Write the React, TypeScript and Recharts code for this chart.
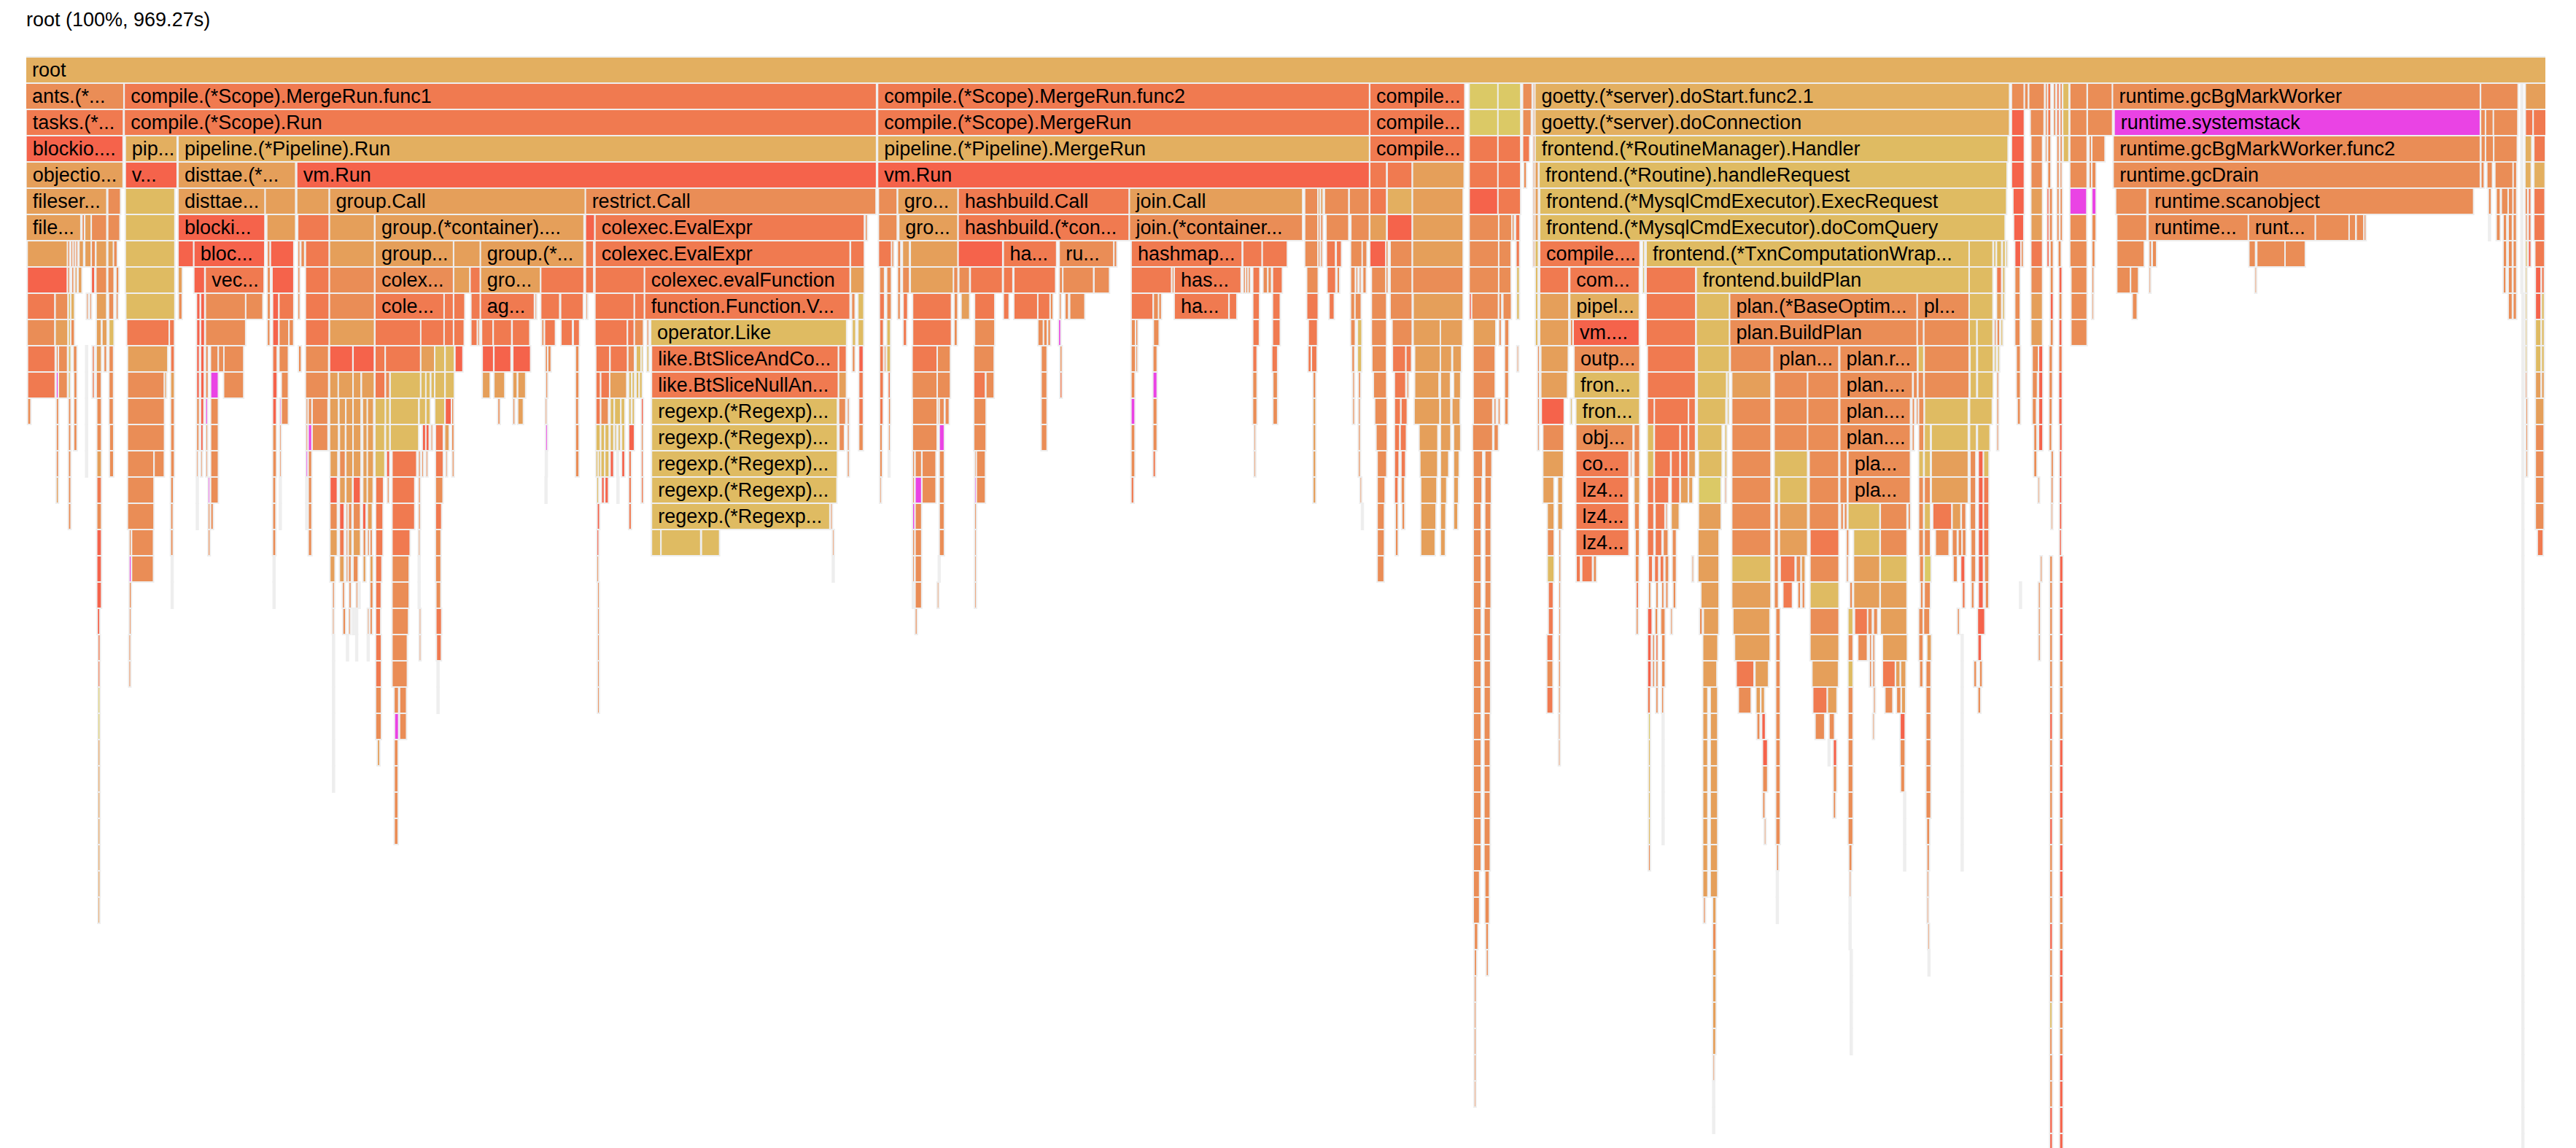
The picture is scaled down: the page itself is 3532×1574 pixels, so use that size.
import { BarChart, Bar, XAxis, YAxis } from "recharts";

// one frame: [first sample, samples, heat, label]
type Frame = [number, number, string, string?];

const TITLE = "root (100%, 969.27s)";
const TOTAL_SAMPLES = 1533;

const depth00: Frame[] = [[0, 1533, "a", "root"]];
const depth01: Frame[] = [
  [0, 59, "c", "ants.(*..."], [60, 457, "d", "compile.(*Scope).MergeRun.func1"], [518.5, 298.5, "d", "compile.(*Scope).MergeRun.func2"], [818, 57, "d", "compile..."],
  [878.5, 17, "l"], [896, 13, "l"], [911, 5, "c"], [917.3, 0.6, "c"], [918.5, 288, "a", "goetty.(*server).doStart.func2.1"],
  [1208.5, 7, "c"], [1216.4, 1.6, "c"], [1219, 8.8, "c"], [1229, 0.8, "c"], [1230.5, 1.2, "d"], [1234, 0.7, "c"], [1236, 0.8, "d"], [1238, 0.7, "c"], [1239.7, 3, "y"],
  [1244, 9.7, "c"], [1254.7, 14.5, "c"], [1270, 223, "c", "runtime.gcBgMarkWorker"], [1494, 22, "c"], [1518.6, 0.2, "c"], [1521.2, 11.8, "b"],
];
const depth02: Frame[] = [
  [0.3, 58.4, "d", "tasks.(*..."], [60, 457, "d", "compile.(*Scope).Run"], [518.5, 298.5, "d", "compile.(*Scope).MergeRun"], [818, 57, "d", "compile..."],
  [878.5, 17, "l"], [896, 13, "l"], [911, 4.5, "c"], [917.3, 0.6, "c"], [918.5, 288, "a", "goetty.(*server).doConnection"],
  [1208.5, 7, "e"], [1219.9, 7.6, "c"], [1229, 0.8, "c"], [1230.5, 1.2, "d"], [1234, 0.7, "c"], [1236, 0.8, "d"], [1238, 0.7, "c"], [1239.7, 3, "y"],
  [1244, 9.7, "c"], [1254.7, 14.5, "c"], [1271, 222, "m", "runtime.systemstack"], [1494, 2.5, "c"], [1497, 4, "c"], [1501.8, 14, "c"], [1518.6, 0.2, "c"], [1521.2, 4, "d"], [1526, 7, "d"],
];
const depth03: Frame[] = [
  [0.3, 58.2, "e", "blockio...."], [60.7, 30.7, "a", "pip..."], [92.8, 424.2, "a", "pipeline.(*Pipeline).Run"], [518.5, 298.5, "a", "pipeline.(*Pipeline).MergeRun"], [818, 57, "d", "compile..."],
  [878.5, 17, "d"], [896, 13, "d"], [911, 3.5, "d"], [917.3, 0.6, "c"], [918.6, 287, "y", "frontend.(*RoutineManager).Handler"],
  [1208.5, 7, "e"], [1220.3, 6.3, "c"], [1229, 0.4, "c"], [1230.5, 1.2, "c"], [1236, 0.8, "c"], [1238, 0.7, "c"], [1240, 2.6, "y"],
  [1244, 9.7, "c"], [1255.7, 0.8, "c"], [1257.4, 7.2, "c"], [1270.4, 222.6, "c", "runtime.gcBgMarkWorker.func2"], [1494.2, 2, "c"], [1497, 4.3, "c"], [1502, 13.5, "c"], [1518.6, 0.2, "c"], [1521, 3.3, "a"], [1526.4, 6.2, "d"],
];
const depth04: Frame[] = [
  [0.3, 58.2, "b", "objectio..."], [60.7, 30.7, "e", "v..."], [92.8, 70.7, "b", "disttae.(*..."], [165, 352, "e", "vm.Run"], [518.5, 298.5, "e", "vm.Run"],
  [818, 9.4, "d"], [828.6, 14.4, "d"], [844, 30.6, "b"], [878.5, 17, "d"], [896, 13, "d"], [911.6, 1, "c"], [917.3, 0.6, "c"], [918.5, 1.3, "b"],
  [921, 284, "y", "frontend.(*Routine).handleRequest"], [1208.5, 7, "e"], [1220.3, 6.3, "c"], [1230.5, 1.2, "c"], [1236, 0.8, "c"], [1238, 0.5, "c"],
  [1244, 9.7, "c"], [1255.7, 0.8, "c"], [1257.4, 1.8, "c"], [1270.4, 222.6, "c", "runtime.gcDrain"], [1494.2, 1.2, "c"], [1497.8, 2.6, "c"], [1502.7, 10.3, "c"], [1513.8, 1.4, "c"], [1518.6, 0.2, "c"], [1521, 3, "a"], [1526.4, 6, "a"],
];
const depth05: Frame[] = [
  [0.3, 48.3, "b", "fileser..."], [50, 7, "c"], [60.7, 29.3, "y"], [92.8, 52.2, "b", "disttae..."], [145.8, 17.7, "b"], [165, 19, "b"], [184.9, 155, "b", "group.Call"], [340.7, 176, "c", "restrict.Call"],
  [519, 10.6, "c"], [530.7, 36, "b", "gro..."], [567.5, 103.4, "d", "hashbuild.Call"], [671.7, 104.6, "b", "join.Call"], [778.4, 7.4, "c"], [786.5, 0.5, "b"], [788, 0.8, "b"], [790.4, 14, "c"], [805.5, 11.4, "c"],
  [818, 9.4, "d"], [828.6, 14.4, "a"], [844, 30, "b"], [878.5, 17, "e"], [896, 13, "d"], [917.3, 0.6, "c"], [918.5, 1.3, "b"], [921.4, 283.3, "y", "frontend.(*MysqlCmdExecutor).ExecRequest"],
  [1209.4, 6.1, "e"], [1220.3, 6.3, "b"], [1230, 0.7, "e"], [1231.5, 1.2, "c"], [1236, 0.8, "c"], [1238, 0.8, "c"], [1244, 9.5, "m"], [1257.4, 1.8, "m"], [1271.9, 18.2, "c"], [1291.6, 197.3, "c", "runtime.scanobject"],
  [1498.7, 1, "c"], [1503.5, 1.7, "c"], [1506.6, 3.3, "c"], [1510.8, 2.2, "c"], [1513.7, 1.4, "c"], [1518.6, 0.2, "c"], [1521, 0.8, "c"], [1523, 0.9, "d"], [1526.4, 5.9, "d"],
];
const depth06: Frame[] = [
  [0.3, 32.5, "b", "file..."], [34.3, 0.8, "c"], [36, 3.3, "b"], [40, 8.6, "c"], [50, 6.6, "c"], [60.7, 29.3, "y"], [92.8, 52, "e", "blocki..."], [146.8, 16.7, "b"], [165.6, 18.4, "d"], [184.9, 26.6, "b"], [212.6, 126.4, "b", "group.(*container)...."],
  [340.7, 4.9, "e"], [346.5, 163.1, "d", "colexec.EvalExpr"], [510.9, 0.6, "c"], [519, 10.6, "c"], [531.4, 35.2, "b", "gro..."], [567.5, 103.4, "d", "hashbuild.(*con..."], [671.7, 104.6, "c", "join.(*container..."], [778.4, 7.4, "c"], [786.5, 0.6, "c"], [788, 0.8, "c"],
  [791.4, 13, "c"], [806.5, 10.4, "c"], [818, 9.4, "b"], [828.6, 14.4, "e"], [844, 30, "b"], [878.5, 17.5, "c"], [896.5, 7.2, "c"], [904.5, 0.6, "c"], [906.7, 1.9, "d"], [917.3, 0.6, "c"], [918.5, 1.3, "b"], [921.4, 282.4, "y", "frontend.(*MysqlCmdExecutor).doComQuery"],
  [1209.8, 5.4, "e"], [1220.3, 6.3, "b"], [1230, 0.7, "e"], [1231.5, 1.2, "c"], [1236, 0.8, "c"], [1238, 0.8, "c"], [1244, 9.5, "c"], [1257.4, 1.8, "c"], [1272.6, 17.5, "c"], [1291.6, 60.3, "c", "runtime..."], [1352.7, 39.9, "c", "runt..."], [1393.5, 19.7, "c"], [1414, 3.2, "c"], [1418.3, 4.1, "c"], [1423, 0.5, "c"],
  [1498.9, 0.2, "c"], [1503.5, 1.7, "c"], [1507.7, 1.4, "c"], [1510.8, 1.7, "c"], [1513.7, 1.4, "c"], [1518.6, 0.2, "c"], [1521.2, 0.5, "c"], [1523, 0.9, "d"], [1526.4, 5.9, "d"],
];
const depth07: Frame[] = [
  [1, 24, "b"], [25.5, 0.6, "c"], [27.5, 0.5, "c"], [29, 0.5, "c"], [30.5, 0.5, "c"], [32.5, 2, "b"], [36, 3.3, "b"], [40, 1.7, "c"], [42.8, 5.8, "b"], [50, 3, "b"], [53.5, 1.5, "c"], [60.7, 29.3, "y"],
  [92.8, 8.7, "e"], [102.4, 42.3, "e", "bloc..."], [147, 1, "c"], [149, 13.4, "e"], [165.6, 0.6, "c"], [167.5, 1.5, "c"], [170.3, 13.7, "d"], [184.9, 26.6, "b"], [212.6, 47, "b", "group..."], [260.5, 15.5, "b"], [276.8, 62.2, "b", "group.(*..."],
  [340.7, 4.2, "d"], [346.5, 154.4, "d", "colexec.EvalExpr"], [502, 7.6, "d"], [519, 7.6, "d"], [527, 0.6, "c"], [530.6, 1.2, "c"], [533.6, 3.5, "b"], [538.4, 28.2, "b"], [567.5, 26.3, "e"], [595, 31.6, "d", "ha..."], [629, 32.6, "c", "ru..."], [662.3, 1, "c"],
  [672.8, 66.7, "d", "hashmap..."], [740.7, 11, "d"], [752.6, 14.4, "d"], [778.4, 7.4, "c"], [786.5, 0.5, "c"], [788, 0.5, "c"], [791.6, 4.7, "d"], [797.6, 2.4, "d"], [806.3, 6.5, "c"], [813.4, 2.1, "c"], [818, 9.4, "e"], [827.8, 0.6, "c"], [830.4, 12.6, "c"], [844, 30, "b"], [878.5, 17.5, "c"], [896.5, 6.7, "c"], [907, 1.4, "d"], [917.3, 0.6, "c"], [918.5, 1.3, "y"],
  [921.4, 60.2, "d", "compile...."], [984, 0.5, "y"], [986.2, 195.7, "y", "frontend.(*TxnComputationWrap..."], [1182.8, 13.6, "y"], [1197.6, 0.7, "y"], [1199.4, 2.3, "y"], [1203, 1, "y"], [1205, 0.3, "y"],
  [1210.5, 3.3, "e"], [1214.3, 0.7, "c"], [1220.3, 6.3, "d"], [1230, 0.7, "e"], [1232, 1.2, "c"], [1236.8, 1.2, "c"], [1244, 9.7, "c"], [1257.4, 1.2, "c"], [1272.6, 15.9, "c"], [1292.2, 0.8, "c"], [1294.2, 1.8, "c"], [1353, 3.2, "c"], [1357.8, 16.6, "c"], [1375, 11.5, "c"],
  [1507.7, 1.4, "c"], [1510.8, 1.7, "c"], [1513.7, 1.4, "c"], [1518.6, 0.2, "c"], [1521.2, 0.5, "y"], [1523, 0.9, "e"], [1527, 5.2, "d"],
];
const depth08: Frame[] = [
  [1, 23.7, "e"], [25.5, 0.6, "c"], [28, 0.6, "c"], [30, 0.6, "b"], [32, 1.5, "b"], [40, 1.3, "e"], [42.8, 5.8, "c"], [50, 3, "c"], [55, 1, "c"], [60.7, 29.3, "y"], [92.8, 1.8, "b"], [102.4, 5.8, "e"], [109.3, 35, "d", "vec..."], [147, 1.2, "c"], [150, 12.4, "e"], [165.6, 0.6, "c"], [170.3, 13.7, "d"], [184.9, 26.6, "c"],
  [212.6, 47, "c", "colex..."], [260.5, 9.1, "b"], [270.5, 5.5, "d"], [276.8, 35.8, "b", "gro..."], [313.5, 25.5, "d"], [340.7, 4.2, "d"], [346.5, 29.3, "d"], [376.7, 124.2, "d", "colexec.evalFunction"], [502, 7.6, "b"],
  [519.6, 2.3, "c"], [524, 2.1, "c"], [530.6, 1.2, "c"], [533.6, 3.5, "c"], [538.4, 25.6, "b"], [564.7, 1.9, "c"], [567.9, 5.8, "c"], [574.9, 18.8, "d"], [595, 5, "d"], [601.4, 24.6, "d"], [629, 1.8, "c"], [631.2, 17.9, "c"], [650.2, 8.6, "c"], [672.8, 23.8, "d"], [697.6, 0.6, "c"], [699, 39.9, "d", "has..."],
  [741, 0.6, "c"], [742.5, 0.6, "c"], [744, 0.6, "c"], [746.8, 3.5, "d"], [753, 2.2, "c"], [756, 1.4, "c"], [758.8, 5.2, "d"], [779.6, 6.2, "c"], [792, 4.5, "d"], [798, 0.9, "c"], [806.3, 2.1, "c"], [809.5, 0.5, "c"], [811.5, 0.5, "c"], [813.7, 1.4, "c"],
  [819, 8.4, "c"], [827.8, 0.6, "c"], [830.4, 12.6, "c"], [844, 30, "c"], [878.5, 17.5, "c"], [896.5, 6.7, "c"], [907.3, 1, "y"], [918.7, 0.9, "y"], [921.4, 16.9, "d"], [939.7, 41.5, "d", "com..."], [984, 0.5, "y"], [986.2, 29.3, "d"], [1016.7, 165.2, "y", "frontend.buildPlan"], [1182.8, 13.6, "y"], [1199.4, 2.3, "d"], [1203, 0.8, "y"],
  [1210.5, 2.5, "c"], [1220.3, 6.3, "c"], [1232, 1.2, "c"], [1237.3, 1.2, "e"], [1244.7, 9, "c"], [1257.4, 0.5, "c"], [1272.6, 7.7, "c"], [1281, 4, "c"], [1292.2, 0.3, "c"], [1356.6, 0.3, "c"], [1507.7, 1, "c"], [1510.8, 1.7, "c"], [1513.7, 1.4, "c"], [1518.6, 0.2, "c"], [1521.2, 0.3, "y"], [1527.3, 2.7, "e"], [1531, 1, "d"],
];
const depth09: Frame[] = [
  [1, 16, "d"], [18, 7, "c"], [26, 1, "y"], [27.5, 1.5, "a"], [37, 0.4, "c"], [39, 0.4, "c"], [43, 5.5, "b"], [50.5, 2.4, "c"], [55, 0.6, "c"], [61, 29, "y"], [93, 1.5, "c"], [104, 1.4, "e"], [106.5, 1.7, "e"], [109.4, 23.7, "c"], [134, 9.6, "c"], [147, 1.2, "c"], [150.3, 3, "e"], [154.2, 8.2, "d"], [165.6, 0.6, "c"], [170.3, 13.7, "d"], [184.9, 26.6, "c"],
  [212.6, 41.6, "d", "cole..."], [254.7, 4.9, "d"], [260.5, 6, "d"], [271, 5, "d"], [276.8, 32, "d", "ag..."], [310, 0.3, "c"], [313.5, 10.7, "d"], [325.6, 13, "d"], [341, 0.3, "c"], [346.5, 23.1, "d"], [370.5, 5.3, "d"], [376.7, 124.2, "d", "function.Function.V..."], [502.6, 1.4, "c"], [506.5, 2.8, "y"],
  [519.6, 2.3, "d"], [524, 2.1, "c"], [530.6, 1, "c"], [534, 2, "d"], [539.8, 22.8, "d"], [565, 1.5, "c"], [569.3, 4.4, "b"], [577.5, 11.5, "d"], [595, 2.7, "d"], [601.4, 13.8, "d"], [616, 7, "d"], [623.5, 1, "c"], [629, 0.5, "c"], [632.5, 1.4, "c"], [635.4, 8.4, "c"], [672.8, 12.6, "d"], [686.3, 2.7, "c"], [689.5, 1, "c"], [699, 32.4, "d", "ha..."], [732.4, 3.9, "d"], [746.8, 3.3, "d"], [758.8, 3.9, "d"], [779.6, 6.2, "d"],
  [793.2, 2.4, "d"], [806.3, 2.1, "c"], [809, 3, "c"], [819, 8.4, "c"], [830.4, 12.6, "c"], [844.4, 29.6, "b"], [878.5, 1.2, "e"], [880, 15.5, "c"], [896.5, 1, "c"], [899, 4.4, "c"], [907.3, 1, "y"], [918.7, 0.9, "y"], [921.4, 16.9, "b"], [939.7, 41.5, "a", "pipel..."], [986.2, 29.3, "d"], [1016.7, 19.5, "y"], [1037, 113.3, "c", "plan.(*BaseOptim..."], [1151.2, 30.7, "c", "pl..."], [1182.8, 13.6, "y"], [1199.4, 2.3, "b"], [1203, 0.6, "y"],
  [1210.5, 2.5, "c"], [1220.3, 6.3, "b"], [1232, 1.2, "e"], [1237.3, 1.2, "c"], [1244.7, 9, "c"], [1257.4, 0.3, "c"], [1282, 2.2, "c"], [1510.8, 1.7, "c"], [1513.7, 1.4, "c"], [1519.2, 0.2, "c"], [1521.2, 0.3, "y"], [1527.3, 2.7, "e"], [1531, 1, "y"],
];
const depth10: Frame[] = [
  [1, 16, "c"], [18, 7, "b"], [26, 1, "y"], [27.5, 1.5, "c"], [43, 2.3, "b"], [46.5, 2.3, "b"], [50.7, 2.3, "y"], [61.5, 25.1, "d"], [87.5, 2.3, "d"], [104, 1.4, "e"], [106.5, 1.7, "e"], [109.4, 23.7, "c"], [147, 1, "c"], [150.3, 3, "e"], [154.2, 5.3, "c"], [160.3, 2, "c"], [170.3, 13.7, "d"], [184.9, 26.6, "b"],
  [212.6, 27.2, "d"], [240.5, 13.7, "d"], [254.7, 4.9, "d"], [260.5, 5.6, "d"], [271, 3.2, "d"], [275, 0.5, "c"], [277.5, 6.2, "d"], [284.6, 10.4, "d"], [296.1, 9.9, "d"], [314, 0.8, "c"], [315.8, 5.8, "d"], [325.8, 6.2, "d"], [333.3, 3, "d"], [346.5, 18.9, "d"], [366.3, 3.3, "d"], [370.5, 4.7, "c"], [378, 0.5, "c"], [380.4, 118.4, "y", "operator.Like"], [503, 1.4, "y"], [506.5, 2.8, "y"],
  [519.7, 1.6, "d"], [524, 1.6, "y"], [534, 1.4, "d"], [539.8, 22.8, "d"], [565, 1.2, "c"], [577.5, 11.5, "c"], [616, 2.6, "c"], [619.5, 1.5, "c"], [622, 1, "c"], [628.5, 0.7, "m"], [672.8, 2, "c"], [675.5, 0.6, "c"], [686.3, 2.7, "c"], [746.8, 3.2, "d"], [758.8, 3.9, "d"], [780.6, 4.8, "d"],
  [806.3, 2.1, "c"], [810.5, 1.9, "y"], [819, 8.4, "c"], [831.6, 11.4, "c"], [844.4, 15.8, "b"], [861, 12.7, "b"], [880.9, 13, "b"], [896.5, 0.8, "c"], [900, 1.9, "c"], [918.7, 0.9, "y"], [921.4, 16.9, "b"], [940, 0.8, "c"], [941.8, 39.4, "e", "vm...."], [986.2, 29.3, "d"], [1016.7, 19.5, "y"], [1037, 113.3, "c", "plan.BuildPlan"], [1151.2, 3, "c"], [1155.2, 26.7, "c"], [1182.8, 3.8, "y"], [1187.6, 8.8, "y"], [1198, 0.5, "c"], [1199.6, 1, "c"], [1202, 0.5, "y"],
  [1210.5, 2.5, "c"], [1220.3, 6.3, "b"], [1232, 1.2, "c"], [1237.3, 1.2, "e"], [1244.7, 9, "c"], [1519.2, 0.2, "c"], [1521.2, 0.3, "y"], [1527.3, 2.7, "y"], [1531, 1, "y"],
];
const depth11: Frame[] = [
  [1.2, 16, "d"], [18.6, 0.7, "c"], [20, 4.7, "c"], [26, 0.8, "y"], [29, 1.5, "c"], [36.6, 0.2, "c"], [40.5, 0.6, "d"], [43, 2.4, "b"], [47.6, 1, "c"], [50.7, 2, "c"], [62, 23.7, "b"], [88.2, 1.6, "d"], [104, 1, "e"], [106.5, 1.4, "e"], [109.5, 0.9, "c"], [112.5, 4, "c"], [117.3, 2.6, "c"], [120.7, 11.2, "c"], [150.3, 2, "d"], [154.2, 4.9, "c"], [166, 1, "c"], [170.3, 13.3, "c"],
  [185, 13.3, "e"], [199.3, 12.1, "e"], [212.6, 5.4, "d"], [218.9, 20.7, "d"], [240.5, 7.7, "b"], [249, 5.3, "y"], [255.3, 4.8, "y"], [261.3, 4, "e"], [277.9, 6.1, "e"], [285, 9.6, "e"], [296.5, 10, "e"], [316.2, 0.8, "c"], [317.8, 1.2, "c"], [334.6, 1.4, "c"], [347, 7.7, "d"], [355.7, 9.8, "d"], [366.5, 3.2, "c"], [371.5, 2.6, "y"], [374.6, 0.4, "y"], [378, 0.6, "y"],
  [380.9, 112.9, "d", "like.BtSliceAndCo..."], [494.8, 3.9, "d"], [503, 1, "c"], [507, 2, "e"], [519.7, 1.6, "d"], [522.5, 0.4, "c"], [524, 1.6, "y"], [539.5, 14.4, "d"], [554.8, 7.2, "c"], [577, 11.6, "c"], [618, 2.8, "c"], [629.4, 0.6, "c"], [672.7, 2.3, "c"], [675.6, 0.4, "c"], [686, 1.8, "c"], [746.7, 1.9, "d"], [758.4, 2.7, "d"], [780.4, 1.2, "d"], [782.5, 2.6, "d"],
  [807, 1, "c"], [810.5, 1.8, "y"], [819.3, 8, "c"], [831.8, 7.4, "d"], [840, 2.6, "d"], [845.3, 14.9, "b"], [861, 6.1, "b"], [868.4, 4.6, "b"], [880.9, 12.6, "c"], [900, 1.8, "c"], [907.5, 0.3, "c"], [920, 0.5, "c"], [922.1, 15.9, "b"], [942.3, 39.2, "c", "outp..."], [986.9, 28.5, "d"], [1017.3, 18.8, "y"], [1037.4, 24, "c"], [1063.2, 39.4, "c", "plan..."], [1104, 46.4, "c", "plan.r..."], [1151.6, 2.7, "y"], [1155.4, 26.5, "c"], [1183.3, 3.2, "y"], [1187.8, 8.8, "y"], [1198, 0.5, "y"], [1200, 0.5, "y"],
  [1211.4, 1.8, "c"], [1221.1, 3.6, "c"], [1225, 1.8, "e"], [1231.3, 1.4, "c"], [1237.2, 1.4, "d"], [1519.2, 0.2, "c"], [1521.2, 0.3, "y"], [1527.3, 2.7, "y"], [1531, 1, "y"],
];
const depth12: Frame[] = [
  [1.2, 16, "d"], [18.6, 0.7, "m"], [20, 4.7, "c"], [26, 0.5, "y"], [29.3, 1.2, "c"], [36.6, 0.2, "c"], [40.5, 0.6, "d"], [43, 2.3, "c"], [50.7, 2, "c"], [62, 21.7, "c"], [84.5, 0.5, "b"], [88.2, 1.6, "b"], [104, 1, "e"], [106.5, 1.4, "e"], [109.5, 0.9, "c"], [112.6, 3.9, "m"], [120.5, 11.4, "c"], [150.3, 2, "e"], [155.6, 3.5, "c"], [170.3, 13.3, "c"],
  [185, 4.6, "b"], [190.3, 8.1, "b"], [199.3, 4, "b"], [204.4, 7, "b"], [212.6, 5.4, "d"], [219, 1.8, "c"], [221.9, 17.7, "y"], [240.5, 2.3, "y"], [243.6, 1.9, "y"], [246.6, 1.6, "y"], [249, 5.3, "y"], [255.3, 4.8, "y"], [277.9, 4, "b"], [285, 5.8, "b"], [296.4, 2, "b"], [299.5, 4, "b"], [316.5, 0.5, "c"], [334.6, 1.4, "c"], [347, 2.1, "d"], [350, 4.6, "d"], [355.5, 9.5, "b"], [367, 1, "y"], [369, 0.8, "y"], [371.5, 1, "y"], [373.5, 1, "y"],
  [380.9, 112.9, "d", "like.BtSliceNullAn..."], [494.8, 3.9, "b"], [507, 2, "d"], [519.7, 1.6, "d"], [524.8, 0.7, "d"], [539.5, 14.4, "c"], [554.8, 7.2, "c"], [577, 6.3, "d"], [584.4, 4.2, "c"], [618, 2.8, "c"], [629.4, 0.6, "d"], [672.7, 1.6, "c"], [686, 1.8, "m"], [746.7, 1.9, "c"], [759, 2.1, "c"], [783.4, 1, "c"],
  [807.5, 0.5, "c"], [811, 0.7, "c"], [820.2, 7.2, "c"], [833, 6.1, "d"], [840.5, 0.5, "c"], [845.3, 14, "b"], [861, 5.3, "b"], [869, 3.5, "b"], [880.9, 12.6, "c"], [900, 1.8, "c"], [920, 0.5, "c"], [922.1, 15.4, "b"], [942.3, 39.2, "y", "fron..."], [986.9, 28.5, "d"], [1017.3, 17, "y"], [1035.5, 0.4, "y"], [1038.3, 23, "b"], [1064.1, 19.5, "c"], [1084.5, 18.1, "c"], [1104, 43.5, "c", "plan...."], [1148.7, 1.8, "c"], [1151.6, 2.7, "c"], [1155.4, 26.5, "c"], [1183.3, 3.2, "y"], [1187.8, 8.8, "y"], [1199.5, 0.5, "c"],
  [1211.4, 1.8, "c"], [1221.1, 2.4, "c"], [1225, 1.8, "e"], [1231.3, 1.4, "c"], [1237.2, 1.4, "e"], [1519.2, 0.2, "c"], [1521.2, 0.3, "c"], [1527.3, 2.7, "b"], [1531, 1, "b"],
];
const depth13: Frame[] = [
  [1.2, 1.2, "c"], [18.6, 0.8, "c"], [26, 0.8, "c"], [29.3, 1.2, "c"], [36.6, 0.2, "c"], [43.3, 2.1, "c"], [50.7, 2, "c"], [62, 21.7, "c"], [88.2, 1.6, "c"], [104, 1, "c"], [106.5, 1.2, "e"], [109.5, 0.5, "m"], [112.6, 3.9, "c"], [150.3, 1.6, "e"], [154.5, 0.3, "m"], [155.6, 3.5, "c"], [170.6, 0.6, "c"], [172, 1.4, "c"], [174.4, 8.8, "c"],
  [185, 4.6, "b"], [190.7, 3.3, "b"], [194.9, 3.5, "b"], [199.3, 4, "b"], [205, 2.2, "b"], [208, 3, "b"], [212.6, 5.6, "y"], [219, 1.8, "y"], [221.9, 16.5, "y"], [239.5, 3.5, "y"], [243.6, 1.9, "y"], [249, 5.3, "y"], [255.3, 3.3, "e"], [259.2, 0.6, "c"], [287.3, 0.7, "c"], [296.5, 0.5, "c"], [299.5, 2.6, "b"], [316.2, 0.3, "c"], [334.6, 1.2, "c"], [347, 2.1, "d"], [350, 3.9, "c"], [355.7, 1.7, "y"], [358.3, 3, "y"], [362.3, 1.6, "y"], [367, 0.8, "y"], [369, 0.8, "y"], [374.6, 0.6, "e"],
  [380.9, 112.3, "y", "regexp.(*Regexp)..."], [494.8, 3.5, "c"], [500, 0.5, "c"], [507, 2, "d"], [519.7, 1.4, "d"], [525, 0.6, "c"], [539.7, 14.2, "c"], [555, 0.6, "c"], [556, 2.3, "c"], [559.5, 1.8, "c"], [577, 6.7, "c"], [618, 2.8, "c"], [672.7, 1.6, "m"], [686, 1.8, "c"], [746.7, 1.9, "c"], [759, 2.1, "c"], [783.4, 1, "b"],
  [807.5, 0.5, "c"], [811, 0.5, "c"], [821, 6.7, "c"], [833, 3, "d"], [837, 3, "d"], [845, 14.8, "b"], [861, 5.5, "b"], [868, 4.2, "b"], [881, 11, "c"], [893.5, 0.6, "c"], [896, 0.6, "c"], [900, 1.5, "c"], [920, 0.5, "c"], [922.4, 13.1, "e"], [940, 0.4, "y"], [943.4, 38, "y", "fron..."], [986.9, 3.6, "d"], [991.2, 20, "d"], [1012, 3.4, "d"], [1017.3, 16.6, "y"], [1035.5, 0.4, "y"], [1038.3, 23, "c"], [1064.1, 19.5, "c"], [1084.5, 18.1, "c"], [1104, 42.2, "c", "plan...."], [1148, 0.8, "c"], [1150.5, 0.6, "c"], [1152, 2.5, "c"], [1155.6, 25.8, "y"], [1183, 13, "y"], [1199.5, 0.5, "c"],
  [1212, 1.2, "c"], [1221.1, 1.8, "c"], [1225, 1.8, "e"], [1231.3, 1.2, "c"], [1237.2, 1.4, "e"], [1519.2, 0.2, "c"], [1521.5, 0.4, "c"], [1527.3, 4.5, "b"],
];
const depth14: Frame[] = [
  [18.6, 0.8, "c"], [26, 0.8, "c"], [29.3, 1.2, "c"], [36.6, 0.2, "c"], [43.3, 2.1, "c"], [51, 1.8, "c"], [62, 21.7, "c"], [88.2, 1.6, "c"], [104, 0.8, "c"], [106.5, 0.8, "e"], [109.7, 0.4, "c"], [112.6, 3.9, "c"], [150.3, 1.6, "c"], [154.5, 0.3, "c"], [170.6, 0.4, "c"], [172, 1.4, "m"], [174.4, 8.8, "c"],
  [185, 4.6, "b"], [191, 2.8, "b"], [194.9, 3.5, "b"], [199.3, 4, "b"], [205.2, 2, "b"], [208, 3, "b"], [212.6, 5.2, "y"], [219, 1.8, "y"], [221.9, 16.5, "y"], [241.4, 1.4, "e"], [243.6, 1.2, "e"], [246.6, 0.4, "c"], [249.4, 4, "d"], [255, 2, "b"], [259.2, 0.8, "c"], [316.4, 0.4, "m"], [334.6, 1.4, "c"], [347, 2, "y"], [350, 1.7, "y"], [352.5, 1.8, "y"], [355.7, 1.4, "y"], [358.4, 0.5, "y"], [360.5, 0.7, "y"], [362.7, 1.2, "y"], [367, 2.7, "e"], [374.6, 0.5, "c"],
  [380.9, 112.3, "y", "regexp.(*Regexp)..."], [495, 2.5, "c"], [500, 0.5, "c"], [507, 2, "c"], [519.7, 0.9, "c"], [525, 0.4, "c"], [539.7, 14.2, "c"], [556, 2.3, "m"], [577, 6.7, "c"], [618, 2.8, "c"], [672.7, 1.6, "c"], [686, 1.8, "c"], [747.5, 0.3, "c"], [783.4, 1, "b"],
  [811, 0.5, "c"], [821.8, 6, "c"], [833, 2.4, "d"], [836.5, 3, "d"], [848, 10.6, "b"], [861, 5.5, "b"], [869, 3.5, "b"], [880.5, 11.5, "c"], [893.5, 2, "c"], [920, 0.4, "c"], [923.3, 12, "c"], [943.4, 34, "c", "obj..."], [978.8, 2.7, "c"], [986.9, 3.2, "y"], [991.2, 14.7, "d"], [1007, 4, "d"], [1012, 3.4, "d"], [1017.3, 14.3, "y"], [1034, 0.6, "y"], [1038.3, 23, "c"], [1064.1, 19.5, "c"], [1084.5, 18.1, "c"], [1104, 42.2, "c", "plan...."], [1148, 0.6, "c"], [1152, 2.5, "c"], [1155.4, 3, "y"], [1159.7, 21.7, "y"], [1183, 3.4, "y"], [1187.8, 6.8, "y"], [1199.5, 0.4, "c"],
  [1222, 1.2, "c"], [1225, 1.8, "e"], [1231.3, 1, "c"], [1237.6, 1, "e"], [1519.2, 0.2, "c"], [1521.5, 0.4, "c"], [1527.3, 4.5, "c"],
];
const depth15: Frame[] = [
  [18.6, 0.7, "c"], [26, 0.8, "c"], [36.6, 0.2, "c"], [43.3, 2.1, "b"], [51, 1.8, "c"], [62, 15.3, "c"], [78.2, 5.4, "c"], [88.2, 1.6, "c"], [104, 0.3, "c"], [106.5, 0.3, "c"], [109.7, 0.3, "c"], [112.6, 3.9, "c"], [150.3, 1.6, "c"], [154.5, 0.3, "c"], [170.6, 0.4, "m"], [172, 1.4, "c"],
  [185.2, 4, "b"], [191, 2.8, "c"], [194.9, 3.5, "b"], [199.3, 4, "b"], [205.2, 2, "b"], [208, 3, "b"], [212.6, 5.2, "y"], [219.6, 1.2, "e"], [223, 14.2, "d"], [239, 0.5, "c"], [241, 0.4, "c"], [243.6, 0.4, "c"], [249.4, 4, "d"], [255.6, 0.3, "c"], [259.5, 0.5, "c"], [316.4, 0.2, "c"], [334.6, 1.4, "c"], [347, 0.7, "y"], [348.5, 0.8, "y"], [350, 1.7, "y"], [352.5, 1.8, "y"], [355.7, 1.4, "e"], [359.8, 0.2, "c"], [362.7, 1.2, "e"], [367, 0.9, "d"], [374.6, 0.5, "d"],
  [380.9, 112.3, "y", "regexp.(*Regexp)..."], [500, 0.5, "c"], [519.7, 0.9, "c"], [525, 0.2, "c"], [539.7, 0.6, "c"], [541.3, 3.2, "c"], [545.5, 7.7, "c"], [556, 2.3, "c"], [577.5, 0.5, "c"], [578.6, 4.7, "c"], [672.7, 1.6, "c"], [686, 0.9, "d"], [747.5, 0.3, "c"], [783.4, 1, "b"],
  [811, 0.5, "c"], [822.5, 5, "c"], [833, 2, "d"], [837, 2, "d"], [848.5, 10, "b"], [861, 4.2, "b"], [869, 2.6, "b"], [880.9, 5, "c"], [888, 3.5, "c"], [923.3, 11.8, "b"], [943.4, 31.5, "d", "co..."], [976.5, 0.3, "c"], [978.8, 2.7, "c"], [986.9, 3.2, "y"], [991.2, 9, "d"], [1001.4, 4.5, "d"], [1007, 4, "d"], [1012, 3.4, "b"], [1018, 13.6, "y"], [1034, 0.6, "y"], [1038.3, 23, "c"], [1064.1, 19.5, "y"], [1085.4, 17.2, "c"], [1104, 3.8, "c"], [1109, 37.2, "c", "pla..."], [1152, 2.2, "y"], [1155.4, 3, "y"], [1159.7, 21.7, "b"], [1183.3, 2.7, "c"], [1188.3, 2.3, "e"], [1191.5, 2.5, "y"],
  [1222, 1.2, "c"], [1232.5, 0.8, "c"], [1237.6, 0.8, "e"], [1519.2, 0.2, "c"], [1521.5, 0.3, "c"], [1527.3, 4.5, "c"],
];
const depth16: Frame[] = [
  [18.6, 0.6, "b"], [26, 0.8, "c"], [43.3, 2.1, "d"], [62, 15.3, "c"], [88.2, 1, "c"], [104, 0.2, "c"], [111, 0.3, "m"], [112.6, 3.9, "c"], [150.3, 1.2, "c"], [154.5, 0.2, "c"], [170.6, 0.2, "c"], [172, 1.4, "c"],
  [185.2, 3.7, "e"], [191, 2.8, "b"], [194.9, 3.2, "b"], [199.3, 3.7, "e"], [205.2, 2, "b"], [208, 2.7, "b"], [213, 4, "d"], [220, 0.5, "c"], [223, 13, "d"], [239, 0.5, "c"], [249.4, 3.8, "c"], [316.2, 0.2, "c"], [347.5, 0.5, "y"], [350.4, 1, "e"], [352.5, 1.4, "e"], [360, 0.2, "c"], [367, 0.9, "d"], [374.6, 0.6, "d"],
  [380.9, 112, "y", "regexp.(*Regexp)..."], [519.7, 0.3, "c"], [539.7, 0.4, "c"], [541.3, 3.2, "m"], [545.5, 7.7, "c"], [556, 2.3, "c"], [577.5, 0.4, "m"], [578.6, 4.7, "c"], [672.7, 1, "d"], [783.4, 1, "b"],
  [812, 0.3, "c"], [822.5, 4, "c"], [833, 1.5, "d"], [837, 1.5, "c"], [849, 9, "b"], [861, 3, "b"], [869, 2.2, "b"], [881, 4.5, "c"], [888, 3.2, "c"], [923.3, 6, "b"], [932.3, 2.3, "b"], [943.4, 31.5, "d", "lz4..."], [978.8, 2.7, "b"], [986.9, 3.2, "d"], [991.2, 8, "d"], [1001.4, 4.5, "d"], [1007, 4, "b"], [1012, 1.8, "b"], [1018, 13, "l"], [1034, 0.3, "c"], [1038.3, 23, "c"], [1064.1, 1.8, "y"], [1067.3, 16.3, "y"], [1085.4, 17.2, "c"], [1104, 3.8, "c"], [1109, 37.2, "c", "pla..."], [1152, 2.2, "c"], [1155.4, 3, "c"], [1159.7, 21.7, "b"], [1183.3, 2.7, "c"], [1188.3, 2.3, "e"], [1191.5, 2.5, "d"],
  [1224.5, 0.3, "c"], [1232.5, 0.6, "c"], [1237.6, 0.8, "e"], [1519.2, 0.2, "c"], [1527.3, 4.5, "c"],
];
const depth17: Frame[] = [
  [26, 0.8, "c"], [43.3, 2.1, "c"], [62, 15.3, "c"], [88.2, 0.8, "c"], [104, 0.2, "c"], [111, 0.5, "c"], [112.6, 0.9, "c"], [150.3, 1.2, "c"], [154.5, 0.2, "c"], [170.6, 0.2, "c"], [172, 1.4, "c"],
  [185.2, 3.7, "c"], [191, 2.1, "e"], [195, 0.5, "c"], [196.4, 1.4, "c"], [199.3, 3.7, "c"], [205, 1.4, "e"], [208, 2.2, "b"], [213, 3.7, "d"], [223, 13, "d"], [239, 0.5, "c"], [249.4, 3, "d"], [347.8, 0.8, "e"], [367, 0.9, "d"],
  [380.9, 107.7, "y", "regexp.(*Regexp..."], [489.8, 0.4, "c"], [539.7, 0.7, "m"], [541.3, 3.2, "c"], [556, 2.3, "c"], [577.5, 0.4, "c"],
  [813, 0.2, "c"], [822.5, 3.6, "c"], [833.5, 1, "c"], [837.5, 1, "c"], [849, 8.5, "b"], [861, 2.5, "b"], [869, 1.8, "b"], [881, 4, "c"], [888, 3, "c"], [926, 3.4, "b"], [932.3, 2.3, "b"], [943.4, 31.5, "d", "lz4..."], [979, 2.3, "c"], [986.9, 3.2, "d"], [991.6, 5.2, "d"], [998, 0.4, "c"], [1001.4, 4.1, "b"], [1018, 13, "b"], [1038.3, 23, "c"], [1064.1, 1.8, "c"], [1067.3, 16.3, "b"], [1085.4, 17.2, "c"], [1104.5, 1, "c"], [1106.7, 1, "c"], [1109, 18.6, "y"], [1128.7, 15.4, "c"], [1145.5, 0.8, "c"], [1152, 2.2, "c"], [1155.4, 3, "y"], [1160.6, 10.8, "d"], [1172.4, 4.5, "b"], [1178, 2, "c"],
  [1183.3, 2.7, "c"], [1188.3, 2.3, "e"], [1191.5, 2.5, "d"], [1232.5, 0.3, "c"], [1237.6, 0.8, "e"], [1519.2, 0.2, "c"], [1527.3, 4.5, "c"],
];
const depth18: Frame[] = [
  [43.3, 2.1, "e"], [63, 0.6, "c"], [64.5, 12.5, "c"], [88.2, 0.8, "c"], [111, 0.5, "c"], [150.3, 1.2, "c"], [172, 1.4, "c"],
  [185.2, 3.7, "b"], [191, 2.1, "d"], [195, 0.5, "c"], [196.4, 1.4, "b"], [199.3, 3.7, "b"], [205.3, 1, "c"], [208, 0.5, "c"], [209.5, 0.8, "c"], [213, 3.7, "d"], [223, 10.2, "d"], [239, 0.3, "c"], [249.4, 2.6, "c"], [347.6, 0.5, "e"],
  [380.9, 4.9, "y"], [386.7, 23.3, "y"], [411.3, 10.2, "y"], [491, 0.3, "c"], [539.7, 0.7, "c"], [541.3, 3.2, "c"], [556, 2.3, "c"], [577.5, 0.3, "c"],
  [822.5, 3.6, "c"], [833.5, 1, "c"], [849, 8, "b"], [861, 2.2, "b"], [881, 4, "c"], [888, 3, "c"], [926, 3.4, "c"], [933, 0.5, "c"], [943.4, 31.5, "d", "lz4..."], [979.5, 1.8, "c"], [986.9, 3.2, "d"], [991.6, 3.4, "d"], [996.5, 2.3, "c"], [1002, 1.8, "c"], [1017.7, 12, "b"], [1038.3, 23, "c"], [1064.1, 1.8, "c"], [1067.3, 16.3, "b"], [1085.9, 16.8, "d"], [1108, 0.8, "c"], [1112.4, 15.2, "y"], [1128.7, 15.4, "c"], [1152, 2.2, "c"], [1155.4, 3, "c"], [1162.2, 7.5, "c"], [1172.4, 2.3, "c"], [1176, 1.6, "c"], [1178.5, 1.6, "c"],
  [1183.8, 2.2, "c"], [1188.3, 2.3, "e"], [1191.5, 2.5, "d"], [1237.6, 0.6, "e"], [1519.2, 0.2, "c"], [1528.5, 2.8, "d"],
];
const depth19: Frame[] = [
  [43.3, 2.1, "e"], [63, 0.6, "m"], [64.5, 12.5, "c"], [88.7, 0.2, "c"], [150.7, 0.2, "c"],
  [185.2, 2.3, "b"], [191, 2.1, "b"], [195, 0.6, "c"], [196.4, 1, "c"], [199.3, 2.3, "c"], [205.3, 1, "b"], [209.5, 1.2, "b"], [213, 3, "d"], [223, 9.6, "c"], [239, 0.2, "c"], [249.4, 2.6, "c"], [347.6, 0.4, "c"], [491, 0.2, "c"], [539.7, 0.4, "c"], [541.3, 3.2, "c"], [555.5, 0.2, "c"], [577.5, 0.3, "c"],
  [822.5, 3.4, "c"], [881, 4, "c"], [888, 3, "c"], [926, 3.4, "y"], [933, 0.5, "c"], [943.6, 1.8, "d"], [947, 5.7, "d"], [954, 1.2, "c"], [979.5, 1.6, "c"], [987.5, 1.8, "d"], [991.2, 1.8, "d"], [994.6, 1.6, "d"], [997.6, 1.6, "c"], [1002, 1.8, "c"], [1014, 0.3, "c"], [1017.7, 12, "b"], [1038.3, 23, "y"], [1064.1, 1.8, "c"], [1067.8, 8.2, "d"], [1077.4, 2.2, "c"], [1080.6, 1.6, "b"], [1085.9, 16.8, "c"], [1108, 0.5, "c"], [1112.4, 15.2, "b"], [1128.7, 15.4, "y"], [1152.5, 1.8, "c"], [1155.4, 3.4, "l"], [1173, 1.8, "c"], [1177.6, 1.8, "e"],
  [1183.8, 2.2, "c"], [1188.3, 2.3, "e"], [1192, 2, "c"], [1226, 0.4, "c"], [1231.7, 1, "c"], [1237.7, 1.4, "e"], [1519.2, 0.2, "c"],
];
const depth20: Frame[] = [
  [43.3, 2.1, "e"], [63, 0.6, "c"], [88.7, 0.2, "c"], [150.7, 0.2, "c"],
  [186.7, 0.5, "c"], [192.7, 0.7, "c"], [196.7, 0.7, "c"], [201, 0.4, "c"], [202.5, 0.2, "c"], [209.5, 1.2, "c"], [213, 2.6, "d"], [223, 9.6, "c"], [239, 0.2, "c"], [249.7, 2.2, "c"], [348, 0.4, "c"], [539.7, 0.2, "c"], [541.3, 3.2, "c"], [554.7, 0.3, "c"], [577.5, 0.3, "c"],
  [881, 4, "c"], [888, 3, "c"], [926.6, 2.3, "d"], [933, 0.4, "c"], [980, 0.8, "d"], [987.5, 0.8, "c"], [992, 0.8, "c"], [995.5, 0.8, "c"], [998, 0.8, "c"], [1002.5, 1, "c"], [1019.5, 10.2, "b"], [1038.3, 23, "b"], [1064.1, 1.8, "c"], [1069.4, 5, "d"], [1078.4, 1, "c"], [1081, 1, "c"], [1085.9, 16.8, "y"], [1110, 1, "c"], [1112.4, 15.2, "b"], [1128.7, 15.4, "b"], [1153, 1, "c"], [1155.4, 3, "c"], [1178.5, 1, "d"],
  [1184, 1, "c"], [1188.3, 2.3, "e"], [1192.5, 1.4, "c"], [1213.5, 0.2, "c"], [1224.8, 0.5, "c"], [1231.7, 1, "c"], [1237.7, 1.4, "e"], [1519.2, 0.2, "c"],
];
const depth21: Frame[] = [
  [43.6, 0.8, "e"], [63, 0.4, "c"], [186.7, 0.3, "c"], [193, 1, "c"], [196.5, 0.4, "c"], [199, 0.2, "c"], [201, 0.2, "c"], [208, 0.3, "c"], [209.5, 0.8, "c"], [213, 2.3, "d"], [223, 9.2, "c"], [239.5, 0.3, "c"], [249.7, 2.7, "d"], [348, 0.4, "c"], [541.3, 0.5, "c"],
  [881, 4, "c"], [887.5, 3.2, "c"], [926.6, 2.3, "d"], [933, 0.4, "c"], [980, 0.6, "c"], [987, 2, "e"], [991.5, 1, "c"], [995, 2, "c"], [1001, 0.4, "c"], [1018.6, 1, "c"], [1021, 8.6, "b"], [1039, 21.7, "b"], [1065, 2, "c"], [1085.9, 16.8, "c"], [1109, 2.3, "y"], [1113, 7.5, "d"], [1121, 2, "c"], [1124.5, 1.8, "c"], [1128.7, 15.4, "b"], [1152, 2, "c"], [1155, 3, "c"], [1175.5, 0.6, "c"], [1187.8, 3.7, "e"], [1224.8, 0.5, "c"], [1231.7, 1, "c"], [1237.7, 1.4, "e"], [1519.2, 0.2, "c"],
];
const depth22: Frame[] = [
  [44, 0.6, "d"], [62.8, 0.4, "c"], [186.9, 0.2, "c"], [195.4, 0.2, "c"], [201, 0.2, "c"], [208, 0.2, "c"], [213, 2.7, "d"], [223, 8.5, "c"], [239.5, 0.3, "c"], [250, 2.2, "d"], [348, 0.4, "c"],
  [881, 4, "c"], [887.5, 3.2, "c"], [925.7, 3, "d"], [932.8, 0.5, "c"], [987, 1.5, "e"], [990, 0.6, "c"], [992, 0.7, "d"], [995.5, 1.5, "c"], [1020.6, 8.4, "b"], [1040, 20.8, "b"], [1065, 2, "c"], [1085.9, 16.8, "b"], [1109, 2.3, "c"], [1115, 5, "c"], [1122, 0.6, "c"], [1124, 0.6, "c"], [1130, 14.3, "b"], [1152, 2, "c"], [1157, 2, "b"], [1178, 0.2, "c"], [1188, 1.5, "e"], [1224.8, 0.5, "c"], [1231.7, 1, "c"], [1237.7, 1.4, "e"], [1519.2, 0.2, "c"],
];
const depth23: Frame[] = [
  [44, 0.5, "d"], [62.8, 0.4, "c"], [186.9, 0.2, "c"], [213, 2.7, "d"], [223, 8.5, "c"], [250.5, 0.2, "c"], [348, 0.4, "c"],
  [881, 4, "c"], [887.5, 3.2, "c"], [925.7, 3, "c"], [932.8, 0.5, "c"], [987, 1.5, "e"], [990, 0.6, "c"], [992, 0.7, "c"], [995.5, 1.5, "c"], [1020.6, 7.8, "b"], [1041, 10, "d"], [1052.4, 7.4, "b"], [1065, 2, "c"], [1087.1, 15.3, "b"], [1109, 2.3, "y"], [1122, 0.6, "c"], [1124, 0.6, "c"], [1130, 7, "d"], [1138, 2, "b"], [1141, 2.5, "b"], [1152.5, 1.4, "c"], [1156.4, 2.3, "c"], [1178, 0.2, "c"], [1185.5, 1, "c"], [1189, 1, "c"], [1231.7, 1, "c"], [1237.7, 1.4, "c"], [1519.2, 0.2, "c"],
];
const depth24: Frame[] = [
  [44, 0.5, "l"], [186.9, 0.2, "c"], [213, 2.7, "c"], [224.2, 2, "c"], [227.6, 3.4, "c"], [250.5, 0.2, "c"], [348, 0.4, "c"],
  [881, 4, "c"], [887.5, 3.2, "c"], [925.7, 3, "d"], [932.8, 0.4, "c"], [987, 1, "d"], [992, 0.7, "c"], [995.5, 0.6, "c"], [1020.6, 2.3, "b"], [1025.2, 3.7, "b"], [1042.3, 7, "c"], [1053, 2, "b"], [1056, 1.5, "b"], [1065, 2, "c"], [1087.6, 8, "d"], [1096.5, 5, "b"], [1109, 2.3, "c"], [1124.5, 0.4, "c"], [1131.5, 4, "c"], [1138.5, 2, "c"], [1141.5, 1.8, "b"], [1156.4, 2.3, "c"], [1178, 0.2, "c"], [1188, 1, "c"], [1231.7, 1, "c"], [1237.7, 1.4, "c"], [1519.2, 0.2, "c"],
];
const depth25: Frame[] = [
  [44, 0.5, "l"], [186.9, 0.2, "c"], [213, 2.7, "c"], [224.5, 1.7, "m"], [227.6, 3.4, "c"], [987.5, 0.5, "l"], [996, 0.2, "c"],
  [881, 4, "c"], [887.5, 3, "c"], [932.8, 0.3, "c"], [1020.6, 2.3, "b"], [1025.2, 3.7, "b"], [1053.5, 1.2, "c"], [1056.5, 1.5, "e"], [1065, 2, "c"], [1089, 5, "c"], [1097.5, 2.5, "c"], [1109, 2.3, "c"], [1124, 0.3, "c"], [1140.7, 2.3, "e"], [1156.4, 2.3, "c"], [1178, 0.2, "c"], [1231.7, 1, "e"], [1237.7, 1.4, "c"], [1519.2, 0.2, "c"],
];
const depth26: Frame[] = [
  [44, 0.5, "b"], [186.9, 0.2, "c"], [214, 0.8, "b"], [224.3, 1.6, "c"], [987.5, 0.5, "y"], [996, 0.2, "c"],
  [881, 4, "c"], [887.5, 3, "c"], [932.8, 0.3, "c"], [1020.6, 2.3, "b"], [1025.2, 3.7, "b"], [1057, 2.3, "e"], [1065, 2, "c"], [1097, 0.2, "c"], [1100, 1.4, "e"], [1109, 2.3, "c"], [1140.7, 2.3, "c"], [1156.4, 2.3, "c"], [1178, 0.2, "c"], [1231.7, 1, "c"], [1237.7, 1.4, "e"], [1519.2, 0.2, "c"],
];
const depth27: Frame[] = [
  [44, 0.5, "b"], [186.9, 0.2, "c"], [224.3, 1.6, "c"], [987.5, 0.5, "y"], [996, 0.2, "c"],
  [881, 4, "c"], [887.5, 3, "c"], [1020.6, 2.3, "b"], [1025.2, 3.7, "b"], [1057, 2.3, "c"], [1065, 2, "c"], [1100, 1.4, "c"], [1109, 2.3, "c"], [1141, 1.8, "c"], [1156.4, 2.3, "c"], [1178, 0.2, "c"], [1231.7, 1, "c"], [1237.7, 1.4, "e"], [1519.2, 0.2, "c"],
];
const depth28: Frame[] = [
  [44, 0.5, "b"], [224.3, 1.6, "c"], [987.5, 0.5, "y"], [996, 0.2, "c"],
  [881, 4, "c"], [887.5, 3, "c"], [1020.6, 2.3, "b"], [1025.2, 3.7, "b"], [1057, 0.8, "c"], [1065, 2, "c"], [1100, 0.8, "c"], [1109, 2.3, "c"], [1143, 0.2, "c"], [1156.4, 2.3, "c"], [1178, 0.2, "c"], [1231.7, 1, "c"], [1237.7, 1.4, "e"], [1519.2, 0.2, "c"],
];
const depth29: Frame[] = [
  [44, 0.5, "b"], [224.3, 1.6, "c"], [987.5, 0.5, "y"], [996, 0.2, "c"],
  [881, 4, "c"], [887.5, 3, "c"], [1020.6, 2.3, "b"], [1025.2, 3.7, "b"], [1058, 0.3, "c"], [1065, 2, "c"], [1109, 2.3, "c"], [1143, 0.2, "c"], [1156.8, 1.2, "c"], [1178, 0.2, "c"], [1231.7, 1, "e"], [1237.7, 1.4, "c"], [1519.2, 0.2, "c"],
];
const depth30: Frame[] = [
  [44, 0.5, "b"], [987.5, 0.5, "c"],
  [881, 4, "c"], [887.5, 3, "c"], [1020.6, 2.3, "b"], [1025.2, 3.7, "b"], [1065.5, 0.6, "c"], [1109.5, 1.2, "c"], [1143, 0.2, "c"], [1157, 0.8, "c"], [1178, 0.2, "c"], [1231.7, 1, "c"], [1237.7, 1.4, "e"], [1519.2, 0.2, "c"],
];
const depth31: Frame[] = [
  [44, 0.5, "b"], [881, 3, "c"], [888, 2, "c"], [1020.6, 2.3, "b"], [1025.2, 3.7, "b"], [1065.5, 0.2, "c"], [1109.8, 0.3, "c"], [1157, 0.4, "c"], [1231.7, 1, "c"], [1237.7, 1.4, "e"], [1519.2, 0.2, "c"],
];
const depth32: Frame[] = [
  [44, 0.4, "b"], [881, 3, "c"], [888, 2, "c"], [1021, 0.5, "c"], [1026.6, 1.4, "b"], [1065.5, 0.2, "c"], [1109.8, 0.2, "c"], [1157, 0.3, "c"], [1231.7, 1, "c"], [1237.7, 1.4, "c"], [1519.2, 0.2, "c"],
];
const depth33: Frame[] = [
  [881.5, 1.5, "c"], [888.5, 1, "c"], [1026.6, 1.4, "c"], [1109.8, 0.2, "c"], [1157.5, 0.3, "c"], [1231.7, 1, "e"], [1237.7, 1.4, "c"], [1519.2, 0.2, "c"],
];
const depth34: Frame[] = [
  [881.5, 0.8, "c"], [888.8, 0.6, "c"], [1026.6, 1.4, "b"], [1110.5, 0.2, "c"], [1157.8, 0.2, "c"], [1231.7, 1, "c"], [1237.7, 1.4, "e"], [1519.2, 0.2, "c"],
];
const depth35: Frame[] = [
  [881.5, 0.5, "c"], [1026.6, 1.4, "b"], [1110.5, 0.2, "c"], [1231.7, 1, "c"], [1237.7, 1.4, "e"], [1519.2, 0.2, "c"],
];
const depth36: Frame[] = [
  [881.5, 0.4, "c"], [1026.6, 1.4, "b"], [1110.5, 0.2, "c"], [1231.7, 0.8, "y"], [1237.7, 1.4, "c"], [1519.2, 0.2, "c"],
];
const depth37: Frame[] = [
  [881.5, 0.4, "c"], [1026.6, 1.2, "b"], [1110.5, 0.2, "c"], [1231.7, 0.8, "c"], [1237.7, 1.4, "c"], [1519.2, 0.2, "c"],
];
const depth38: Frame[] = [[881.5, 0.4, "c"], [1026.8, 0.3, "c"], [1231.7, 1, "c"], [1237.7, 1.4, "e"], [1519.2, 0.2, "c"]];
const depth39: Frame[] = [[881.5, 0.3, "c"], [1026.8, 0.2, "c"], [1231.7, 1, "c"], [1237.7, 1.4, "e"], [1519.2, 0.2, "c"]];
const depth40: Frame[] = [[1026.8, 0.2, "c"], [1231.7, 1, "e"], [1237.7, 1.4, "e"], [1519.2, 0.2, "c"]];
const depth41: Frame[] = [[1231.7, 1, "e"], [1237.7, 1.4, "e"], [1519.2, 0.2, "c"]];

const depths = [
  depth00, depth01, depth02, depth03, depth04, depth05, depth06, depth07, depth08, depth09, depth10, depth11, depth12, depth13,
  depth14, depth15, depth16, depth17, depth18, depth19, depth20, depth21, depth22, depth23, depth24, depth25, depth26, depth27,
  depth28, depth29, depth30, depth31, depth32, depth33, depth34, depth35, depth36, depth37, depth38, depth39, depth40, depth41,
];

const heatColors: Record<string, string> = {
  a: "#e3af60",
  b: "#e59f5a",
  c: "#ea8d56",
  d: "#f07a50",
  e: "#f5634b",
  y: "#dfbb62",
  l: "#dbc966",
  m: "#ea43e4",
};

const ROW_HEIGHT = 36;
const CHART_WIDTH = 3532;
const FONT = '"Liberation Sans", Arial, sans-serif';

// each row stacks gap,frame,gap,frame... so frames land at their first sample
const rows = depths.map((frames, depth) => {
  const row: Record<string, any> = { depth };
  let cursor = 0;
  [...frames]
    .sort((p, q) => p[0] - q[0])
    .forEach((f, i) => {
      row[`gap${i}`] = Math.max(0, f[0] - cursor);
      row[`span${i}`] = f[1];
      row[`heat${i}`] = f[2];
      row[`label${i}`] = f[3];
      cursor = Math.max(cursor, f[0]) + f[1];
    });
  return row;
});

const maxFrames = Math.max(...depths.map((d) => d.length));
const slots = Array.from({ length: maxFrames }, (_, i) => i);

function FrameBar(props: any) {
  const { x, y, width, height, payload, slot } = props;
  const heat = payload[`heat${slot}`];
  if (!heat) return null;
  const label = payload[`label${slot}`];
  // under a pixel wide the border swallows the fill
  const fill = width < 0.6 ? "#eeeeee" : heatColors[heat];
  return (
    <g>
      <rect x={x - 1} y={y} width={width + 2} height={height} fill={fill} stroke="#eeeeee" strokeWidth={2} />
      {label && (
        <text x={x + 8} y={y + 27} fontSize={27} fontFamily={FONT} fill="#000">
          {label}
        </text>
      )}
    </g>
  );
}

export default function App() {
  return (
    <div style={{ position: "absolute", left: 0, top: 0, width: CHART_WIDTH, height: 1574, overflow: "hidden", background: "#fff" }}>
      <div style={{ position: "absolute", left: 36, top: 10, fontSize: 27, lineHeight: "34px", fontFamily: FONT, color: "#000" }}>{TITLE}</div>
      <BarChart
        width={CHART_WIDTH}
        height={78 + ROW_HEIGHT * rows.length}
        data={rows}
        layout="vertical"
        barCategoryGap={0}
        margin={{ top: 78, right: 42, bottom: 0, left: 36 }}
      >
        <XAxis type="number" domain={[0, TOTAL_SAMPLES]} hide allowDataOverflow />
        <YAxis type="category" dataKey="depth" hide />
        {slots.flatMap((i) => [
          <Bar key={`g${i}`} dataKey={`gap${i}`} stackId="frames" isAnimationActive={false} shape={() => null} />,
          <Bar key={`s${i}`} dataKey={`span${i}`} stackId="frames" isAnimationActive={false} shape={(p: any) => <FrameBar {...p} slot={i} />} />,
        ])}
      </BarChart>
    </div>
  );
}
